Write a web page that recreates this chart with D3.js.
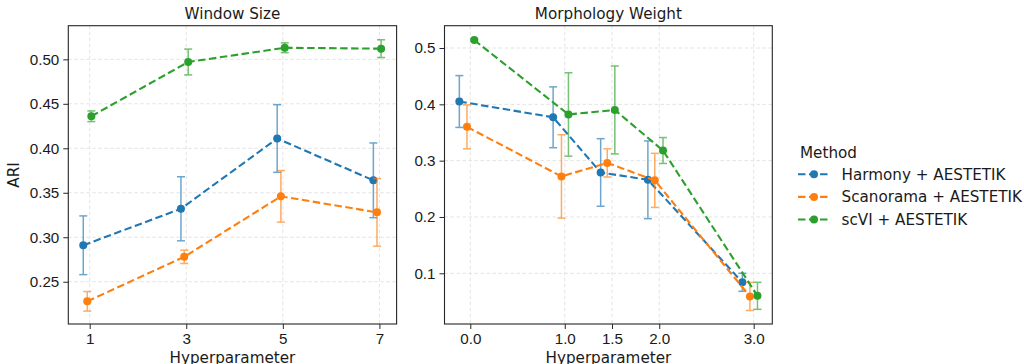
<!DOCTYPE html>
<html>
<head>
<meta charset="utf-8">
<script src="https://cdn.jsdelivr.net/npm/d3@7"></script>
<style>
  body { margin: 0; background: #fff; }
  svg { font-family: "DejaVu Sans", sans-serif; }
  .grid line { stroke: #e3e3e3; stroke-dasharray: 3.5,2.5; }
  .axis path, .axis line { stroke: #262626; }
  .axis text { font-size: 15.2px; fill: #1a1a1a; }
</style>
</head>
<body>
<script>
var width = 1024;
var height = 364;
var fontSize = 15.2;

var methods = ["Harmony + AESTETIK", "Scanorama + AESTETIK", "scVI + AESTETIK"];
var colors = ["#1f77b4", "#ff7f0e", "#2ca02c"];

// Window Size panel
var windowX = [1, 3, 5, 7];
var windowOffset = [
  [-0.133, -0.11, -0.117, -0.125],
  [-0.05, -0.042, -0.04, -0.05],
  [0.034, 0.04, 0.04, 0.035]
];
var windowMean = [
  [0.291, 0.332, 0.411, 0.364],
  [0.228, 0.278, 0.346, 0.328],
  [0.436, 0.497, 0.513, 0.512]
];
var windowErr = [
  [0.033, 0.036, 0.038, 0.042],
  [0.011, 0.0075, 0.029, 0.038],
  [0.006, 0.0145, 0.0055, 0.010]
];
var windowTicks = [0.25, 0.30, 0.35, 0.40, 0.45, 0.50];

// Morphology Weight panel
var morphX = [0.0, 1.0, 1.5, 2.0, 3.0];
var morphOffset = [
  [-0.116, -0.123, -0.12, -0.12, -0.12],
  [-0.035, -0.035, -0.05, -0.047, -0.04],
  [0.042, 0.039, 0.03, 0.04, 0.04]
];
var morphMean = [
  [0.405, 0.377, 0.279, 0.266, 0.084],
  [0.360, 0.272, 0.296, 0.265, 0.059],
  [0.514, 0.382, 0.390, 0.318, 0.060]
];
var morphErr = [
  [0.046, 0.054, 0.060, 0.069, 0.016],
  [0.039, 0.074, 0.025, 0.048, 0.025],
  [0.002, 0.074, 0.078, 0.023, 0.024]
];
var morphTicks = [0.1, 0.2, 0.3, 0.4, 0.5];

var svg = d3.select("body").append("svg")
  .attr("width", width)
  .attr("height", height);

function drawPanel(opts) {
  var x = d3.scaleLinear().domain(opts.xDomain).range([opts.left, opts.right]);
  var y = d3.scaleLinear().domain(opts.yDomain).range([opts.bottom, opts.top]);
  var g = svg.append("g");

  // grid
  var grid = g.append("g").attr("class", "grid");
  grid.selectAll(".gx").data(opts.xTicks).enter().append("line")
    .attr("x1", function(d) { return x(d); }).attr("x2", function(d) { return x(d); })
    .attr("y1", opts.top).attr("y2", opts.bottom);
  grid.selectAll(".gy").data(opts.yTicks).enter().append("line")
    .attr("x1", opts.left).attr("x2", opts.right)
    .attr("y1", function(d) { return y(d); }).attr("y2", function(d) { return y(d); });

  // series
  for (var s = 0; s < methods.length; s++) {
    var pts = opts.xs.map(function(v, i) {
      return { x: v + opts.offset[s][i], y: opts.mean[s][i], e: opts.err[s][i] };
    });
    var sg = g.append("g");
    sg.append("path")
      .datum(pts)
      .attr("fill", "none")
      .attr("stroke", colors[s])
      .attr("stroke-width", 2.1)
      .attr("stroke-dasharray", "7.5,3.5")
      .attr("d", d3.line().x(function(d) { return x(d.x); }).y(function(d) { return y(d.y); }));

    var eb = sg.selectAll(".eb").data(pts).enter().append("g")
      .attr("stroke", colors[s])
      .attr("stroke-width", 1.5)
      .attr("opacity", 0.65);
    eb.append("line")
      .attr("x1", function(d) { return x(d.x); }).attr("x2", function(d) { return x(d.x); })
      .attr("y1", function(d) { return y(d.y - d.e); }).attr("y2", function(d) { return y(d.y + d.e); });
    eb.append("line")
      .attr("x1", function(d) { return x(d.x) - 4; }).attr("x2", function(d) { return x(d.x) + 4; })
      .attr("y1", function(d) { return y(d.y + d.e); }).attr("y2", function(d) { return y(d.y + d.e); });
    eb.append("line")
      .attr("x1", function(d) { return x(d.x) - 4; }).attr("x2", function(d) { return x(d.x) + 4; })
      .attr("y1", function(d) { return y(d.y - d.e); }).attr("y2", function(d) { return y(d.y - d.e); });

    sg.selectAll(".pt").data(pts).enter().append("circle")
      .attr("cx", function(d) { return x(d.x); })
      .attr("cy", function(d) { return y(d.y); })
      .attr("r", 4)
      .attr("fill", colors[s]);
  }

  // axes
  var xa = g.append("g").attr("class", "axis")
    .attr("transform", "translate(0," + opts.bottom + ")")
    .call(d3.axisBottom(x).tickValues(opts.xTicks).tickFormat(opts.xFormat).tickSizeOuter(0).tickSize(5).tickPadding(4));
  xa.select(".domain").remove();
  var ya = g.append("g").attr("class", "axis")
    .attr("transform", "translate(" + opts.left + ",0)")
    .call(d3.axisLeft(y).tickValues(opts.yTicks).tickFormat(opts.yFormat).tickSizeOuter(0).tickSize(5).tickPadding(4));
  ya.select(".domain").remove();

  g.append("rect")
    .attr("x", opts.left).attr("y", opts.top)
    .attr("width", opts.right - opts.left).attr("height", opts.bottom - opts.top)
    .attr("fill", "none").attr("stroke", "#262626").attr("stroke-width", 1.1);

  g.append("text")
    .attr("x", (opts.left + opts.right) / 2).attr("y", 19)
    .attr("text-anchor", "middle").attr("font-size", fontSize).attr("fill", "#1a1a1a")
    .text(opts.title);
  g.append("text")
    .attr("x", (opts.left + opts.right) / 2).attr("y", 362.5)
    .attr("text-anchor", "middle").attr("font-size", fontSize).attr("fill", "#1a1a1a")
    .text("Hyperparameter");
}

drawPanel({
  title: "Window Size",
  left: 68.3, right: 396.6, top: 25.7, bottom: 324,
  xDomain: [0.557, 7.356], yDomain: [0.2025, 0.5378],
  xs: windowX, offset: windowOffset, mean: windowMean, err: windowErr,
  xTicks: windowX, yTicks: windowTicks,
  xFormat: d3.format("d"), yFormat: d3.format(".2f")
});

drawPanel({
  title: "Morphology Weight",
  left: 444.5, right: 772.3, top: 25.7, bottom: 324,
  xDomain: [-0.273, 3.197], yDomain: [0.010, 0.5396],
  xs: morphX, offset: morphOffset, mean: morphMean, err: morphErr,
  xTicks: morphX, yTicks: morphTicks,
  xFormat: d3.format(".1f"), yFormat: d3.format(".1f")
});

svg.append("text")
  .attr("transform", "translate(19,175) rotate(-90)")
  .attr("text-anchor", "middle").attr("font-size", fontSize).attr("fill", "#1a1a1a")
  .text("ARI");

// legend
var legend = svg.append("g").attr("transform", "translate(798,0)");
legend.append("text").attr("x", 2).attr("y", 157.5)
  .attr("font-size", fontSize).attr("fill", "#1a1a1a").text("Method");
methods.forEach(function(m, i) {
  var cy = 174.3 + i * 22.6;
  legend.append("line")
    .attr("x1", 0).attr("x2", 32).attr("y1", cy).attr("y2", cy)
    .attr("stroke", colors[i]).attr("stroke-width", 2.1).attr("stroke-dasharray", "7.5,3.5");
  legend.append("circle").attr("cx", 16).attr("cy", cy).attr("r", 4).attr("fill", colors[i]);
  legend.append("text").attr("x", 43.5).attr("y", cy + 5.5)
    .attr("font-size", fontSize).attr("fill", "#1a1a1a").text(m);
});
</script>
</body>
</html>
